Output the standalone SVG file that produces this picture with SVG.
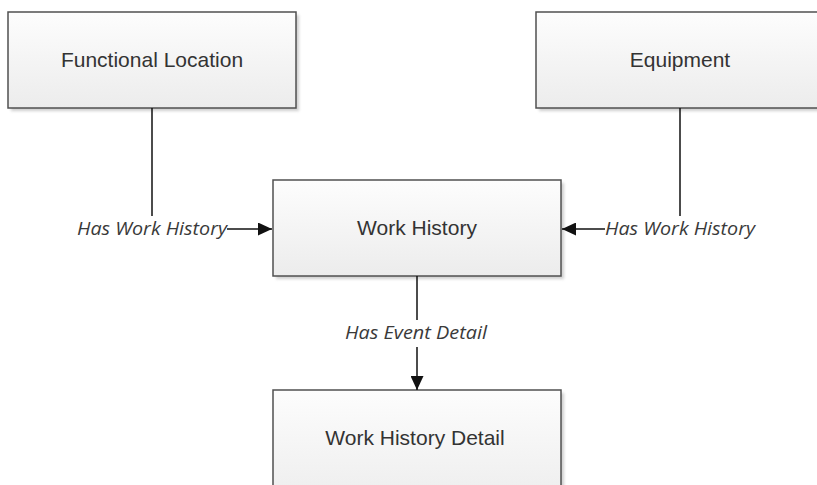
<svg xmlns="http://www.w3.org/2000/svg" width="817" height="485" viewBox="0 0 817 485">
<style>
.box{fill:url(#g);stroke:#505050;stroke-width:1.5}
.sh{fill:#cfcfcf;filter:url(#blur)}
.t{font-family:"Liberation Sans",Arial,sans-serif;font-size:21px;fill:#333;text-anchor:middle}
.lbl{font-family:"Open Sans","DejaVu Sans",sans-serif;font-style:italic;font-size:18px;fill:#3a3a3a}
.ln{stroke:#111;stroke-width:1.5;fill:none}
</style>
<defs>
<linearGradient id="g" x1="0" y1="0" x2="0" y2="1">
<stop offset="0" stop-color="#fdfdfd"/>
<stop offset="1" stop-color="#ececec"/>
</linearGradient>
<filter id="blur" x="-10%" y="-10%" width="120%" height="120%"><feGaussianBlur stdDeviation="1.5"/></filter>
<marker id="ah" markerWidth="14" markerHeight="13" refX="14" refY="6.5" orient="auto" markerUnits="userSpaceOnUse">
<path d="M0,0 L14,6.5 L0,13 Z" fill="#111"/>
</marker>
</defs>
<rect width="817" height="485" fill="#fff"/>
<g id="functional-location">
<rect class="sh" x="11" y="15" width="288" height="96"/>
<rect class="box" x="8" y="12" width="288" height="96"/>
<text class="t" x="152" y="67">Functional Location</text>
</g>
<g id="equipment">
<rect class="sh" x="539" y="15" width="288" height="96"/>
<rect class="box" x="536" y="12" width="288" height="96"/>
<text class="t" x="680" y="67">Equipment</text>
</g>
<g id="work-history">
<rect class="sh" x="276" y="183" width="288" height="96"/>
<rect class="box" x="273" y="180" width="288" height="96"/>
<text class="t" x="417" y="235">Work History</text>
</g>
<g id="work-history-detail">
<rect class="sh" x="276" y="393" width="288" height="120"/>
<rect class="box" x="273" y="390" width="288" height="120"/>
<text class="t" x="415" y="445">Work History Detail</text>
</g>
<g id="connectors">
<path class="ln" d="M152,108 V216"/>
<path class="ln" d="M227,229 H272" marker-end="url(#ah)"/>
<text class="lbl" x="77" y="235" textLength="150" lengthAdjust="spacingAndGlyphs">Has Work History</text>
<path class="ln" d="M680,108 V216"/>
<path class="ln" d="M605,229 H562" marker-end="url(#ah)"/>
<text class="lbl" x="605" y="235" textLength="150" lengthAdjust="spacingAndGlyphs">Has Work History</text>
<path class="ln" d="M417,276 V320"/>
<text class="lbl" x="345" y="339" textLength="142" lengthAdjust="spacingAndGlyphs">Has Event Detail</text>
<path class="ln" d="M417,347 V390" marker-end="url(#ah)"/>
</g>
</svg>
